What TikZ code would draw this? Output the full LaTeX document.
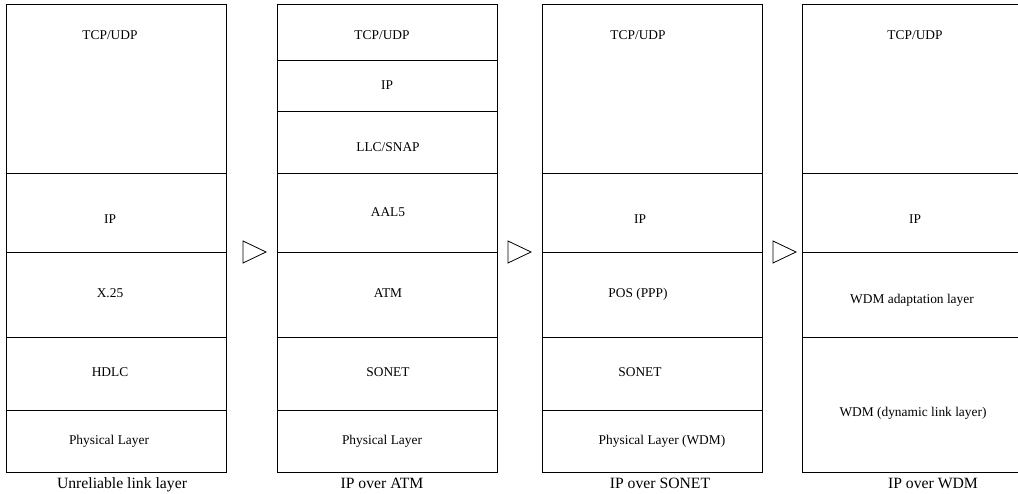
\documentclass[tikz,border=0pt]{standalone}
\usepackage{fontspec}
\setmainfont{Liberation Serif}
\begin{document}
\begin{tikzpicture}[x=1pt,y=-1pt,
  layerbox/.style={draw=black,line width=0.8pt},
  lbl/.style={anchor=base,inner sep=0pt,font=\fontsize{13.4}{15}\selectfont},
  caption/.style={anchor=base,inner sep=0pt,font=\fontsize{15.7}{18}\selectfont},
  stepmark/.style={draw=black,line width=0.8pt,fill=white,line join=miter}]
\useasboundingbox (0,0) rectangle (1018,494);
\clip (0,0) rectangle (1018,494);

% Stack 1: unreliable link layer
\foreach \t/\b in {4/173,173/252,252/337,337/410,410/472}
  \draw[layerbox] (6,\t) rectangle (226,\b);
\node[lbl] (a1) at (110,39.5)  {TCP/UDP};
\node[lbl] (a2) at (110,223.5) {IP};
\node[lbl] (a3) at (110,297.5) {X.25};
\node[lbl] (a4) at (110,376.5) {HDLC};
\node[lbl] (a5) at (109,444.5) {Physical Layer};
\node[caption] (ca) at (122,488) {Unreliable link layer};

% Stack 2: IP over ATM
\foreach \t/\b in {4/60,60/111,111/173,173/252,252/337,337/410,410/472}
  \draw[layerbox] (277,\t) rectangle (497,\b);
\node[lbl] (b1) at (382,39.5)  {TCP/UDP};
\node[lbl] (b2) at (387,89.5)  {IP};
\node[lbl] (b3) at (388,151.5) {LLC/SNAP};
\node[lbl] (b4) at (388,216.5) {AAL5};
\node[lbl] (b5) at (388,297.5) {ATM};
\node[lbl] (b6) at (388,376.5) {SONET};
\node[lbl] (b7) at (382,444.5) {Physical Layer};
\node[caption] (cb) at (382,488) {IP over ATM};

% Stack 3: IP over SONET
\foreach \t/\b in {4/173,173/252,252/337,337/410,410/472}
  \draw[layerbox] (542,\t) rectangle (762,\b);
\node[lbl] (c1) at (638,39.5)  {TCP/UDP};
\node[lbl] (c2) at (640,223.5) {IP};
\node[lbl] (c3) at (638,297.5) {POS (PPP)};
\node[lbl] (c4) at (640,376.5) {SONET};
\node[lbl] (c5) at (662,444.5) {Physical Layer (WDM)};
\node[caption] (cc) at (660,488) {IP over SONET};

% Stack 4: IP over WDM
\foreach \t/\b in {4/173,173/252,252/337,337/472}
  \draw[layerbox] (802,\t) rectangle (1030,\b);
\node[lbl] (d1) at (915,39.5)  {TCP/UDP};
\node[lbl] (d2) at (915,223.5) {IP};
\node[lbl] (d3) at (912,303.5) {WDM adaptation layer};
\node[lbl] (d4) at (913,416.5) {WDM (dynamic link layer)};
\node[caption] (cd) at (933,488) {IP over WDM};

% Evolution markers between the stacks
\foreach \x in {243,508,773}
  \draw[stepmark] (\x,241) -- (\x+23,252) -- (\x,263) -- cycle;
\end{tikzpicture}
\end{document}
